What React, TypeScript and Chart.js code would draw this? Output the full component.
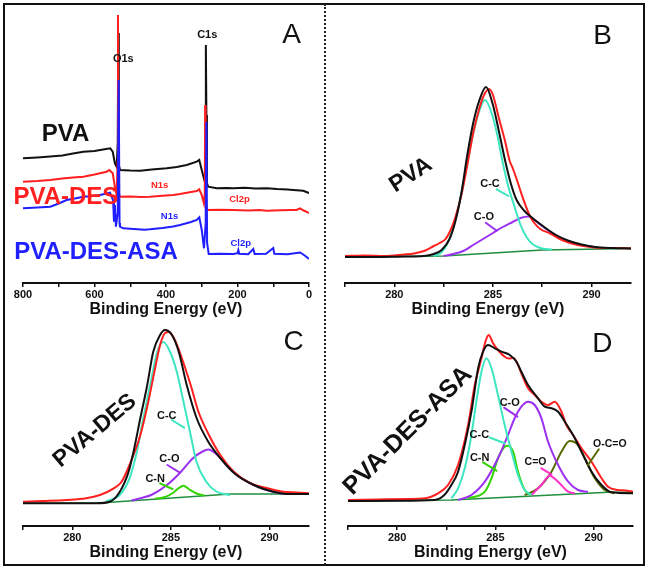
import React, { useEffect, useRef } from 'react';
import { Chart, registerables } from 'chart.js';

Chart.register(...registerables);

const FONT = '"Liberation Sans", Arial, Helvetica, sans-serif';
const INK = '#111111';
const RED = '#ff1f1f';
const BLUE = '#1f1fff';
const CYAN = '#3de6c0';
const PURPLE = '#9b30f0';
const GREEN = '#33d400';
const BGGREEN = '#1f8f3f';
const MAGENTA = '#ff30c8';
const OLIVE = '#556b00';

// ---------- Panel A: survey spectra  [binding energy eV, intensity a.u.] ----------
const surveyPVA: number[][] = [
  [800, 124.7], [760, 125.5], [724, 126.5], [690, 127.5], [660, 129.5], [631, 131.3], [600, 132], [584, 133],
  [556, 134.7], [549, 131.3], [543, 119.7], [538, 116.3], [535, 140], [533.5, 250], [532, 118], [528.7, 113],
  [500, 112.5], [472, 112.3], [440, 113.5], [398, 114.7], [370, 116], [342, 118], [314, 121.3], [307, 123],
  [300, 113], [294, 104.7], [290, 110], [288.5, 238], [287, 168], [285.5, 100], [282, 96.3], [258, 94.7],
  [230, 95], [211, 94.7], [180, 95.2], [150, 94.5], [118, 94.7], [90, 94], [60, 93.5], [44, 93], [16, 92.3],
  [2, 90.3], [0, 90],
];
const surveyPVADES: number[][] = [
  [800, 101.3], [760, 102], [724, 103], [690, 104.5], [660, 105.5], [631, 106.3], [600, 108.5], [566, 111.3],
  [558.6, 113], [549, 109.7], [543, 96.3], [538, 88], [535.5, 120], [534.3, 268], [533, 90], [528.7, 86.3],
  [500, 86.5], [470, 86], [444.8, 86.3], [410, 87.2], [380, 88], [360.8, 89], [330, 91], [314, 92], [307, 93.7],
  [300, 88], [294, 79.7], [291.5, 90], [290.5, 178], [289, 80], [284.5, 73], [250, 73.2], [211.7, 73], [170, 72.5],
  [140, 73], [118, 72.3], [80, 72.8], [50, 73], [34.6, 73], [25, 74.7], [15, 72.5], [2, 70.3], [0, 70],
];
const surveyPVADESASA: number[][] = [
  [800, 74.7], [760, 75.5], [724, 76.3], [700, 79.5], [678, 83], [655, 84.5], [631, 86.3], [610, 86.8],
  [584.6, 88], [556.6, 90.3], [548, 83], [545.5, 61.3], [543, 78], [540, 56.3], [535, 70], [532.4, 203],
  [530, 60], [528.7, 56.3], [519.5, 54.7], [490, 54], [460, 53.3], [444.8, 53.7], [410, 55], [380, 56.5],
  [360.8, 58], [330, 61], [314, 63], [306.8, 65.7], [300, 53], [293.7, 34.7], [289, 60], [287, 161], [285, 40],
  [280.6, 29], [250, 29.3], [211.7, 29], [200, 29.8], [197.7, 33], [195, 29.3], [170, 28.8], [155.8, 34], [152, 29],
  [120, 29.3], [100, 35], [97, 29.3], [60, 28.8], [25, 30.5], [12, 27.5], [2, 24.7], [0, 24.5],
];

// ---------- Panel B: PVA C1s ----------
const bEnvelope: number[][] = [
  [277.5, 26], [279, 26], [280.5, 26.5], [281.5, 27], [282, 29], [282.4, 33], [282.8, 44], [283.1, 62], [283.4, 90],
  [283.7, 128], [284, 160], [284.3, 182], [284.65, 196], [285, 178], [285.3, 152], [285.6, 124], [285.9, 100],
  [286.2, 83], [286.6, 72], [287, 65], [287.6, 56], [288.2, 48], [288.8, 42.5], [289.5, 38.5], [290.2, 36],
  [291, 35], [292, 34.5],
];
const bRaw: number[][] = [
  [277.5, 27], [278.5, 27.5], [279.5, 27], [280.5, 28.5], [281, 29.5], [281.5, 32], [282, 37], [282.3, 40],
  [282.6, 44], [282.9, 55], [283.1, 66], [283.4, 88], [283.7, 118], [284, 150], [284.3, 174], [284.55, 188],
  [284.8, 194], [285, 188], [285.3, 165], [285.6, 143], [285.85, 122], [286, 115], [286.2, 104], [286.5, 86],
  [286.85, 68], [287.1, 60], [287.4, 54], [287.9, 49.5], [288.3, 45], [288.7, 41.5], [289.2, 38.5], [289.8, 36.5],
  [290.5, 35], [291.2, 35], [292, 34.5],
];
const bCC: number[][] = [
  [282, 27], [282.4, 31], [282.7, 40], [283, 57], [283.3, 80], [283.6, 110], [283.9, 140], [284.2, 165],
  [284.6, 183], [284.9, 172], [285.2, 150], [285.5, 120], [285.8, 95], [286.1, 76], [286.4, 58], [286.7, 46],
  [287, 39], [287.4, 35], [288, 33.5],
];
const bCO: number[][] = [
  [282.5, 27], [283, 29], [283.5, 32], [284, 38], [284.5, 44], [285, 50], [285.5, 56], [286, 61], [286.4, 65],
  [286.8, 66.5], [287.1, 63], [287.4, 58.5], [287.7, 54], [288.2, 47.5], [288.8, 41.8], [289.5, 38], [290.2, 35.7],
];
const bBackground: number[][] = [[277.5, 26], [282.5, 27], [287.5, 33], [292, 34.5]];

// ---------- Panel C: PVA-DES C1s ----------
const cEnvelope: number[][] = [
  [277.5, 22.7], [279.5, 22.7], [281.2, 22.8], [281.9, 24.3], [282.4, 34], [282.85, 54], [283.1, 74], [283.45, 108],
  [283.8, 141], [284.1, 174], [284.45, 191], [284.7, 196], [285.05, 191], [285.4, 174], [285.8, 141], [286.3, 108],
  [286.9, 84], [287.5, 68], [288.2, 53], [289.2, 41], [290.2, 34.3], [291, 32], [292, 32],
];
const cRaw: number[][] = [
  [277.5, 24.3], [278.5, 25], [279.7, 26], [280.7, 27.7], [281.4, 31], [282.1, 37.7], [282.5, 44.3], [282.9, 61],
  [283.45, 91], [283.85, 124], [284.2, 158], [284.45, 181], [284.7, 193], [284.9, 194], [285.2, 186], [285.55, 168],
  [286, 141], [286.4, 114], [286.85, 94], [287.5, 71], [288.2, 54], [289, 43], [289.9, 37.7], [290.7, 34.3],
  [291.4, 33.5], [292, 32.7],
];
const cCC: number[][] = [
  [281.7, 24.3], [282.4, 31], [282.9, 47.7], [283.27, 74], [283.6, 108], [283.95, 141], [284.3, 174], [284.62, 184],
  [284.96, 174], [285.3, 154], [285.64, 124], [286, 91], [286.3, 64], [286.8, 44], [287.3, 34.5], [288, 31],
];
const cCO: number[][] = [
  [283, 25.5], [283.5, 28], [284, 31], [284.8, 41], [285.5, 54], [286.1, 67.5], [286.6, 74.5], [286.9, 76.5],
  [287.3, 72], [287.6, 66], [288, 57], [288.5, 48.5], [289.2, 41], [290.2, 34], [291, 32],
];
const cCN: number[][] = [
  [284.2, 27.3], [284.7, 29], [285.1, 33], [285.4, 38], [285.64, 40.3], [285.9, 37], [286.3, 32.5], [286.7, 30.3],
];
const cBackground: number[][] = [[277.5, 22.7], [281.2, 22.8], [288, 32], [292, 32]];

// ---------- Panel D: PVA-DES-ASA C1s ----------
const dEnvelope: number[][] = [
  [277.5, 25], [280, 25.3], [281.9, 26], [282.4, 31], [282.76, 41], [283.1, 54.3], [283.44, 81], [283.78, 114.3],
  [284.12, 157.7], [284.37, 174.3], [284.62, 181], [284.97, 177.7], [285.31, 174.3], [285.73, 171], [286.07, 164.3],
  [286.32, 154.3], [286.66, 141], [287.17, 127.7], [287.51, 119.3], [287.85, 117.7], [288.19, 114.3], [288.53, 104.3],
  [288.95, 91], [289.38, 74.3], [289.89, 54.3], [290.4, 41], [290.9, 33.7], [292, 32.7],
];
const dRaw: number[][] = [
  [277.5, 26], [279, 26.5], [280.5, 27], [281.4, 27.7], [282.08, 32.7], [282.59, 41], [283.1, 61], [283.61, 101],
  [283.95, 141], [284.29, 167.7], [284.49, 184.3], [284.66, 191], [284.88, 182.7], [285.13, 176], [285.47, 169.3],
  [285.7, 167.5], [285.9, 168], [286.07, 164.3], [286.32, 152.7], [286.66, 137.7], [287, 131], [287.34, 124.3],
  [287.68, 121], [288.02, 124.3], [288.36, 114.3], [288.61, 101], [288.95, 91], [289.38, 77.7], [289.89, 64.3],
  [290.4, 47.7], [290.73, 39.3], [291.24, 36], [291.6, 35.5], [292, 34.3],
];
const dCC: number[][] = [
  [282.76, 27.7], [283.1, 37.7], [283.44, 57.7], [283.78, 91], [284.03, 124.3], [284.29, 154.3], [284.54, 167.7],
  [284.8, 157.7], [285.13, 131], [285.47, 101], [285.82, 74.3], [286.15, 51], [286.49, 36], [286.83, 31],
];
const dCO: number[][] = [
  [283.1, 26], [283.78, 31], [284.46, 44.3], [285.13, 67.7], [285.64, 91], [285.98, 107.7], [286.32, 119.3],
  [286.66, 124.3], [287, 121], [287.34, 107.7], [287.68, 84.3], [288.19, 61], [288.7, 44.3], [289.2, 36], [289.71, 34.3],
];
const dCN: number[][] = [
  [283.61, 27.7], [284.46, 34.3], [284.8, 47.7], [285.13, 67.7], [285.47, 79.3], [285.64, 80.3], [285.9, 74.3],
  [286.15, 54.3], [286.49, 36], [286.83, 31],
];
const dCeqO: number[][] = [[286.83, 31], [287.34, 41], [287.76, 50.3], [288.19, 44.3], [288.7, 34.3], [289.04, 32.7]];
const dOCO: number[][] = [
  [286.49, 31], [287.17, 37.7], [287.85, 54.3], [288.36, 74.3], [288.78, 85], [289.2, 81], [289.55, 67.7],
  [290.06, 47.7], [290.56, 36], [291.07, 32.7],
];
const dBackground: number[][] = [[277.5, 25], [282.76, 26], [290.73, 33.7], [292, 33.7]];

// ---------- axis ticks ----------
const surveyTicks = [0, 100, 200, 300, 400, 500, 600, 700, 800];
const surveyTickLabels = [0, 200, 400, 600, 800];
const c1sTicks = [277.5, 280, 282.5, 285, 287.5, 290];
const c1sTickLabels = [280, 285, 290];

type Series = { points: number[][]; color: string; width: number; smooth: boolean };
type Note = { text: string; x: number; y: number; color: string; size: number; bold?: boolean; rot?: number };
type Leader = { x1: number; y1: number; x2: number; y2: number; color: string };
type PanelSpec = {
  left: number; top: number; width: number; height: number; padLeft: number; padRight: number;
  xMin: number; xMax: number; reverse: boolean; yMax: number;
  ticks: number[]; labels: number[]; series: Series[]; notes: Note[]; leaders: Leader[];
};

function notesPlugin(notes: Note[], leaders: Leader[]) {
  return {
    id: 'notes',
    afterDatasetsDraw(chart: any) {
      const { ctx } = chart;
      const x = chart.scales.x;
      const y = chart.scales.y;
      ctx.save();
      ctx.lineCap = 'round';
      for (const l of leaders) {
        ctx.strokeStyle = l.color;
        ctx.lineWidth = 2;
        ctx.beginPath();
        ctx.moveTo(x.getPixelForValue(l.x1), y.getPixelForValue(l.y1));
        ctx.lineTo(x.getPixelForValue(l.x2), y.getPixelForValue(l.y2));
        ctx.stroke();
      }
      for (const n of notes) {
        ctx.save();
        ctx.translate(x.getPixelForValue(n.x), y.getPixelForValue(n.y));
        ctx.rotate(((n.rot || 0) * Math.PI) / 180);
        ctx.font = `${n.bold === false ? 'normal' : 'bold'} ${n.size}px ${FONT}`;
        ctx.fillStyle = n.color;
        ctx.textAlign = 'center';
        ctx.textBaseline = 'middle';
        ctx.fillText(n.text, 0, 0);
        ctx.restore();
      }
      ctx.restore();
    },
  };
}

function makeConfig(p: PanelSpec): any {
  return {
    type: 'scatter',
    data: {
      datasets: p.series.map((s) => ({
        data: s.points.map(([x, y]) => ({ x, y })),
        showLine: true,
        borderColor: s.color,
        backgroundColor: s.color,
        borderWidth: s.width,
        pointRadius: 0,
        pointHoverRadius: 0,
        fill: false,
        tension: 0,
        cubicInterpolationMode: s.smooth ? 'monotone' : 'default',
      })),
    },
    options: {
      responsive: false,
      animation: false,
      devicePixelRatio: 1,
      events: [],
      layout: { padding: { left: p.padLeft, right: p.padRight, top: 0, bottom: 0 } },
      plugins: { legend: { display: false }, tooltip: { enabled: false } },
      scales: {
        x: {
          type: 'linear',
          position: 'bottom',
          min: p.xMin,
          max: p.xMax,
          reverse: p.reverse,
          afterBuildTicks: (scale: any) => {
            scale.ticks = p.ticks.map((v) => ({ value: v }));
          },
          ticks: {
            callback: (v: number) => (p.labels.includes(v) ? String(v) : ''),
            font: { family: FONT, size: 11, weight: 'bold', lineHeight: 1 },
            color: INK,
            padding: 2,
            maxRotation: 0,
            autoSkip: false,
          },
          grid: { drawOnChartArea: false, drawTicks: true, tickLength: 4, color: INK, lineWidth: 1.5 },
          border: { display: true, color: INK, width: 2 },
          title: {
            display: true,
            text: 'Binding Energy (eV)',
            color: INK,
            font: { family: FONT, size: 16, weight: 'bold', lineHeight: 1 },
            padding: 0,
          },
        },
        y: { type: 'linear', display: false, min: 0, max: p.yMax },
      },
    },
    plugins: [notesPlugin(p.notes, p.leaders)],
  };
}

const panels: PanelSpec[] = [
  {
    left: 0, top: 0, width: 325, height: 318, padLeft: 23, padRight: 16,
    xMin: 0, xMax: 800, reverse: true, yMax: 283, ticks: surveyTicks, labels: surveyTickLabels,
    series: [
      { points: surveyPVADESASA, color: BLUE, width: 2, smooth: false },
      { points: surveyPVADES, color: RED, width: 2, smooth: false },
      { points: surveyPVA, color: INK, width: 2, smooth: false },
    ],
    notes: [
      { text: 'PVA', x: 681, y: 149, color: INK, size: 24 },
      { text: 'PVA-DES', x: 680, y: 86, color: RED, size: 24 },
      { text: 'PVA-DES-ASA', x: 596, y: 30.5, color: BLUE, size: 24 },
      { text: 'O1s', x: 519.5, y: 224, color: INK, size: 11 },
      { text: 'C1s', x: 284.7, y: 248.5, color: INK, size: 11 },
      { text: 'N1s', x: 417.7, y: 98, color: RED, size: 9.5 },
      { text: 'N1s', x: 390, y: 67, color: BLUE, size: 9.5 },
      { text: 'Cl2p', x: 194.4, y: 83.3, color: RED, size: 9.5 },
      { text: 'Cl2p', x: 190.8, y: 39.7, color: BLUE, size: 9.5 },
      { text: 'A', x: 48.4, y: 248, color: INK, size: 28, bold: false },
    ],
    leaders: [],
  },
  {
    left: 325, top: 0, width: 325, height: 318, padLeft: 20, padRight: 19,
    xMin: 277.5, xMax: 292, reverse: false, yMax: 283, ticks: c1sTicks, labels: c1sTickLabels,
    series: [
      { points: bEnvelope, color: INK, width: 2, smooth: true },
      { points: bRaw, color: RED, width: 2, smooth: true },
      { points: bCC, color: CYAN, width: 2, smooth: true },
      { points: bCO, color: PURPLE, width: 2, smooth: true },
      { points: bBackground, color: BGGREEN, width: 1.5, smooth: false },
    ],
    notes: [
      { text: 'PVA', x: 280.84, y: 108, color: INK, size: 23, rot: -33 },
      { text: 'C-C', x: 284.85, y: 99.3, color: INK, size: 11 },
      { text: 'C-O', x: 284.54, y: 66, color: INK, size: 11 },
      { text: 'B', x: 290.56, y: 247.2, color: INK, size: 28, bold: false },
    ],
    leaders: [
      { x1: 285.19, y1: 93.7, x2: 285.78, y2: 87, color: CYAN },
      { x1: 284.64, y1: 60.3, x2: 285.19, y2: 52.3, color: PURPLE },
    ],
  },
  {
    left: 0, top: 285, width: 325, height: 276, padLeft: 23, padRight: 16,
    xMin: 277.5, xMax: 292, reverse: false, yMax: 241, ticks: c1sTicks, labels: c1sTickLabels,
    series: [
      { points: cEnvelope, color: INK, width: 2, smooth: true },
      { points: cRaw, color: RED, width: 2, smooth: true },
      { points: cCC, color: CYAN, width: 2, smooth: true },
      { points: cCO, color: PURPLE, width: 2, smooth: true },
      { points: cCN, color: GREEN, width: 2, smooth: true },
      { points: cBackground, color: BGGREEN, width: 1.5, smooth: false },
    ],
    notes: [
      { text: 'PVA-DES', x: 281.15, y: 95.2, color: INK, size: 23, rot: -40 },
      { text: 'C-C', x: 284.79, y: 109.7, color: INK, size: 11 },
      { text: 'C-O', x: 284.92, y: 66.8, color: INK, size: 11 },
      { text: 'C-N', x: 284.2, y: 47.3, color: INK, size: 11 },
      { text: 'C', x: 291.22, y: 183.5, color: INK, size: 28, bold: false },
    ],
    leaders: [
      { x1: 285.05, y1: 106, x2: 285.67, y2: 98.3, color: CYAN },
      { x1: 284.82, y1: 61, x2: 285.43, y2: 53.7, color: PURPLE },
      { x1: 284.45, y1: 42.7, x2: 285.08, y2: 37, color: GREEN },
    ],
  },
  {
    left: 325, top: 285, width: 325, height: 276, padLeft: 23, padRight: 17,
    xMin: 277.5, xMax: 292, reverse: false, yMax: 241, ticks: c1sTicks, labels: c1sTickLabels,
    series: [
      { points: dEnvelope, color: INK, width: 2, smooth: true },
      { points: dRaw, color: RED, width: 2, smooth: true },
      { points: dCC, color: CYAN, width: 2, smooth: true },
      { points: dCO, color: PURPLE, width: 2, smooth: true },
      { points: dCN, color: GREEN, width: 2, smooth: true },
      { points: dCeqO, color: MAGENTA, width: 2, smooth: true },
      { points: dOCO, color: OLIVE, width: 2, smooth: true },
      { points: dBackground, color: BGGREEN, width: 1.5, smooth: false },
    ],
    notes: [
      { text: 'PVA-DES-ASA', x: 280.55, y: 95.2, color: INK, size: 25, rot: -45 },
      { text: 'C-O', x: 285.73, y: 123.5, color: INK, size: 11 },
      { text: 'C-C', x: 284.18, y: 91, color: INK, size: 11 },
      { text: 'C-N', x: 284.2, y: 68.5, color: INK, size: 11 },
      { text: 'C=O', x: 287.04, y: 63.5, color: INK, size: 10.5 },
      { text: 'O-C=O', x: 290.82, y: 81.8, color: INK, size: 10.5 },
      { text: 'D', x: 290.44, y: 181.8, color: INK, size: 28, bold: false },
    ],
    leaders: [
      { x1: 285.44, y1: 118.3, x2: 286.12, y2: 109.3, color: PURPLE },
      { x1: 284.71, y1: 88.5, x2: 285.47, y2: 82.7, color: CYAN },
      { x1: 284.37, y1: 63.7, x2: 285.05, y2: 55.3, color: GREEN },
      { x1: 287.34, y1: 57.7, x2: 287.85, y2: 51.7, color: MAGENTA },
      { x1: 290.26, y1: 76.7, x2: 289.71, y2: 61, color: OLIVE },
    ],
  },
];

function Panel({ spec }: { spec: PanelSpec }) {
  const ref = useRef<HTMLCanvasElement | null>(null);
  useEffect(() => {
    if (!ref.current) return;
    const chart = new Chart(ref.current, makeConfig(spec));
    return () => chart.destroy();
  }, [spec]);
  return (
    <canvas
      ref={ref}
      width={spec.width}
      height={spec.height}
      style={{ position: 'absolute', left: spec.left, top: spec.top, width: spec.width, height: spec.height }}
    />
  );
}

export default function App() {
  return (
    <div style={{ position: 'absolute', left: 0, top: 0, width: 650, height: 569, background: '#fff', overflow: 'hidden' }}>
      <div
        style={{
          position: 'absolute', left: 3, top: 3, width: 642, height: 563, boxSizing: 'border-box',
          border: `2px solid ${INK}`,
        }}
      />
      <div style={{ position: 'absolute', left: 324, top: 4, width: 0, height: 561, borderLeft: '2px dotted #222' }} />
      {panels.map((p, i) => (
        <Panel key={i} spec={p} />
      ))}
    </div>
  );
}
